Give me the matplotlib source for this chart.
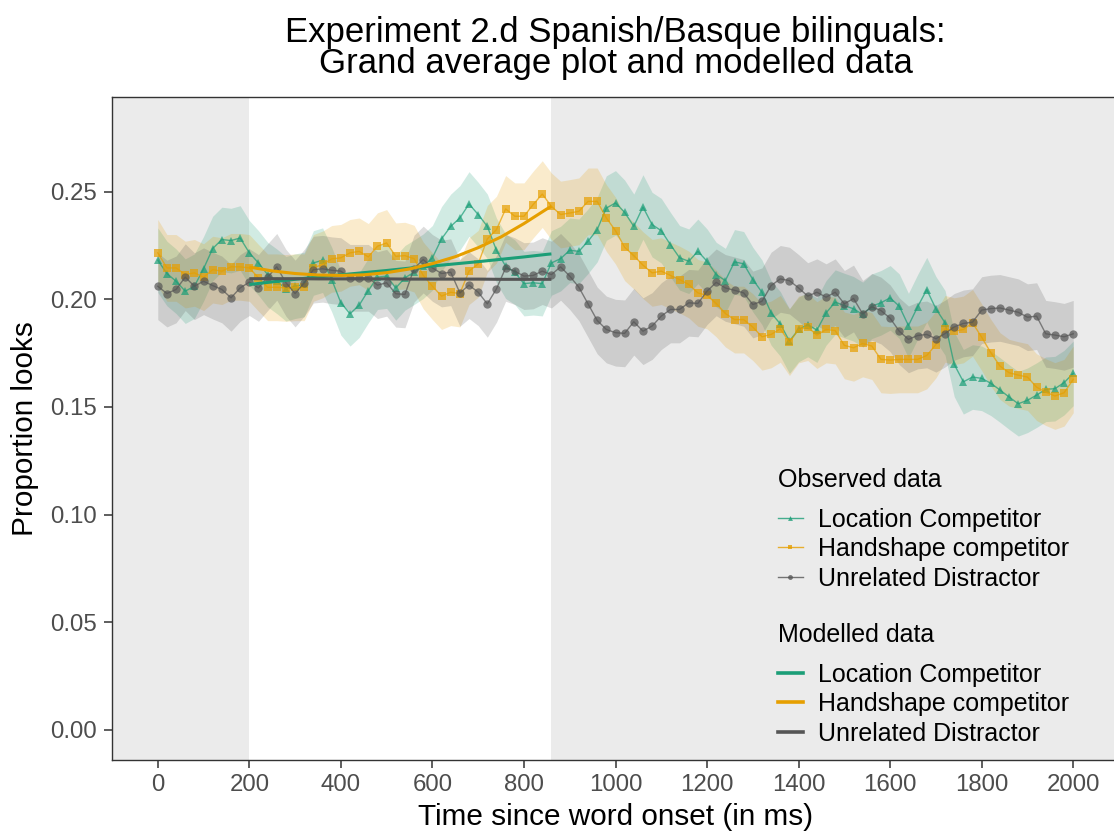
import matplotlib
matplotlib.use('Agg')
import matplotlib.pyplot as plt
from matplotlib.legend import Legend
from matplotlib.lines import Line2D
import numpy as np

plt.rcParams['font.family'] = ['Liberation Sans', 'DejaVu Sans']

# time bins (ms since word onset), one every 20 ms
time_ms = np.arange(0, 2001, 20)

location = [0.2182, 0.2120, 0.2084, 0.2038, 0.2061, 0.2142, 0.2236, 0.2278, 0.2273, 0.2285,
            0.2216, 0.2169, 0.2115, 0.2084, 0.2049, 0.2061, 0.2069, 0.2169, 0.2182, 0.2092,
            0.1984, 0.1933, 0.1973, 0.2041, 0.2103, 0.2108, 0.2053, 0.2100, 0.2126, 0.2154,
            0.2193, 0.2281, 0.2339, 0.2378, 0.2443, 0.2394, 0.2339, 0.2227, 0.2154, 0.2126,
            0.2073, 0.2077, 0.2073, 0.2169, 0.2189, 0.2228, 0.2223, 0.2270, 0.2324, 0.2424,
            0.2448, 0.2404, 0.2339, 0.2429, 0.2347, 0.2319, 0.2254, 0.2193, 0.2177, 0.2223,
            0.2177, 0.2115, 0.2087, 0.2174, 0.2165, 0.2092, 0.2033, 0.1937, 0.1886, 0.1806,
            0.1860, 0.1883, 0.1857, 0.1937, 0.1987, 0.1971, 0.1956, 0.1930, 0.1968, 0.1984,
            0.2007, 0.1968, 0.1878, 0.1965, 0.2045, 0.1956, 0.1891, 0.1698, 0.1617, 0.1639,
            0.1633, 0.1610, 0.1579, 0.1546, 0.1515, 0.1531, 0.1555, 0.1582, 0.1585, 0.1613,
            0.1656]

handshape = [0.2216, 0.2146, 0.2146, 0.2115, 0.2123, 0.2103, 0.2138, 0.2131, 0.2151, 0.2151,
             0.2146, 0.2100, 0.2056, 0.2056, 0.2053, 0.2056, 0.2056, 0.2146, 0.2162, 0.2188,
             0.2193, 0.2216, 0.2223, 0.2197, 0.2247, 0.2262, 0.2200, 0.2203, 0.2189, 0.2111,
             0.2061, 0.2015, 0.2033, 0.2027, 0.2131, 0.2165, 0.2281, 0.2324, 0.2420, 0.2386,
             0.2386, 0.2440, 0.2489, 0.2432, 0.2394, 0.2401, 0.2409, 0.2455, 0.2455, 0.2378,
             0.2319, 0.2242, 0.2203, 0.2159, 0.2123, 0.2131, 0.2111, 0.2092, 0.2069, 0.2030,
             0.2018, 0.1981, 0.1934, 0.1906, 0.1906, 0.1871, 0.1826, 0.1837, 0.1863, 0.1801,
             0.1860, 0.1871, 0.1834, 0.1860, 0.1855, 0.1786, 0.1775, 0.1795, 0.1783, 0.1721,
             0.1718, 0.1721, 0.1721, 0.1721, 0.1739, 0.1790, 0.1863, 0.1852, 0.1860, 0.1891,
             0.1824, 0.1752, 0.1690, 0.1659, 0.1648, 0.1639, 0.1592, 0.1569, 0.1551, 0.1566,
             0.1628]

unrelated = [0.2061, 0.2027, 0.2046, 0.2103, 0.2061, 0.2084, 0.2064, 0.2046, 0.2007, 0.2053,
             0.2080, 0.2053, 0.2103, 0.2151, 0.2077, 0.2027, 0.2077, 0.2138, 0.2142, 0.2135,
             0.2131, 0.2100, 0.2100, 0.2100, 0.2066, 0.2077, 0.2026, 0.2023, 0.2143, 0.2185,
             0.2146, 0.2120, 0.2126, 0.2030, 0.2066, 0.2033, 0.1979, 0.2049, 0.2146, 0.2131,
             0.2108, 0.2111, 0.2131, 0.2115, 0.2151, 0.2108, 0.2056, 0.1979, 0.1902, 0.1860,
             0.1845, 0.1842, 0.1896, 0.1852, 0.1876, 0.1922, 0.1953, 0.1953, 0.1984, 0.1981,
             0.2038, 0.2079, 0.2053, 0.2042, 0.2030, 0.1976, 0.1991, 0.2064, 0.2095, 0.2087,
             0.2053, 0.2015, 0.2033, 0.2010, 0.2033, 0.1979, 0.2004, 0.1933, 0.1965, 0.1948,
             0.1912, 0.1852, 0.1814, 0.1832, 0.1837, 0.1817, 0.1841, 0.1872, 0.1888, 0.1894,
             0.1950, 0.1957, 0.1960, 0.1950, 0.1940, 0.1917, 0.1922, 0.1840, 0.1834, 0.1826,
             0.1840]

# standard error of each condition (ribbon half-width)
se_location = 0.0150
se_handshape = 0.0155
se_unrelated = 0.0155

# model fit over the analysis window
model_ms = [200, 250, 300, 350, 400, 450, 500, 550, 600, 650, 700, 750, 800, 850, 860]
model_location = [0.2069, 0.2081, 0.2093, 0.2104, 0.2114, 0.2124, 0.2134, 0.2145, 0.2155,
                  0.2165, 0.2175, 0.2186, 0.2197, 0.2209, 0.2211]
model_handshape = [0.2150, 0.2132, 0.2120, 0.2113, 0.2111, 0.2114, 0.2124, 0.2141, 0.2166,
                   0.2198, 0.2240, 0.2290, 0.2352, 0.2420, 0.2432]
model_unrelated = [0.2096, 0.2096, 0.2096, 0.2095, 0.2095, 0.2095, 0.2095, 0.2094, 0.2094,
                   0.2094, 0.2094, 0.2093, 0.2093, 0.2093, 0.2093]

window = (200, 860)

labels = ['Location Competitor', 'Handshape competitor', 'Unrelated Distractor']
colors = ['#1B9E77', '#E69F00', '#555555']
markers = ['^', 's', 'o']

observed = [location, handshape, unrelated]
ses = [se_location, se_handshape, se_unrelated]
modelled = [model_location, model_handshape, model_unrelated]

fig = plt.figure(figsize=(11.14, 8.31), dpi=100)
ax = fig.add_axes([112 / 1114, 71 / 831, 1007 / 1114, 663 / 831])
ax.set_facecolor('#EBEBEB')
ax.axvspan(window[0], window[1], color='white', lw=0, zorder=0)

for vals, se, col in zip(observed, ses, colors):
    v = np.array(vals)
    ax.fill_between(time_ms, v - se, v + se, color=col, alpha=0.2, lw=0, zorder=1)

for vals, col, mk in zip(observed, colors, markers):
    ax.plot(time_ms, vals, color=col, lw=1.0, alpha=0.7, marker=mk, markersize=6,
            markeredgewidth=0, zorder=2)

for vals, col in zip(modelled, colors):
    ax.plot(model_ms, vals, color=col, lw=2.2, zorder=4, solid_capstyle='butt')

ax.set_xlim(-100, 2100)
ax.set_ylim(-0.014, 0.294)
ax.set_xticks(np.arange(0, 2001, 200))
ax.set_yticks([0.0, 0.05, 0.10, 0.15, 0.20, 0.25])
ax.set_yticklabels(['0.00', '0.05', '0.10', '0.15', '0.20', '0.25'])
ax.tick_params(axis='both', length=5.5, width=1.1, color='#333333', labelcolor='#4D4D4D',
               labelsize=17.3)
ax.tick_params(axis='x', pad=4.5)
ax.tick_params(axis='y', pad=5.5)
for sp in ax.spines.values():
    sp.set_color('#333333')
    sp.set_linewidth(1.0)

ax.set_xlabel('Time since word onset (in ms)', fontsize=21.4, labelpad=5)
ax.set_ylabel('Proportion looks', fontsize=21.4, labelpad=8)
ax.set_title('Experiment 2.d Spanish/Basque bilinguals:\nGrand average plot and modelled data',
             fontsize=25, linespacing=0.95, pad=17)

obs_handles = [Line2D([], [], color=c, lw=1.0, alpha=0.8, marker=m, markersize=3.5,
                      markeredgewidth=0) for c, m in zip(colors, markers)]
mod_handles = [Line2D([], [], color=c, lw=2.6) for c in colors]

leg_kw = dict(loc='upper left', frameon=False, fontsize=18, title_fontsize=18,
              handlelength=1.0, handletextpad=0.6, labelspacing=0.22, borderpad=0,
              borderaxespad=0, bbox_transform=fig.transFigure)
for handles, title, top in [(obs_handles, 'Observed data', 468),
                            (mod_handles, 'Modelled data', 623)]:
    leg = Legend(ax, handles, labels, title=title,
                 bbox_to_anchor=(778 / 1114, 1 - top / 831), **leg_kw)
    leg._legend_box.align = 'left'
    # extra room between the legend title and its entries
    leg._legend_box.sep = 11.2
    ax.add_artist(leg)

fig.savefig('out.png', dpi=100)
